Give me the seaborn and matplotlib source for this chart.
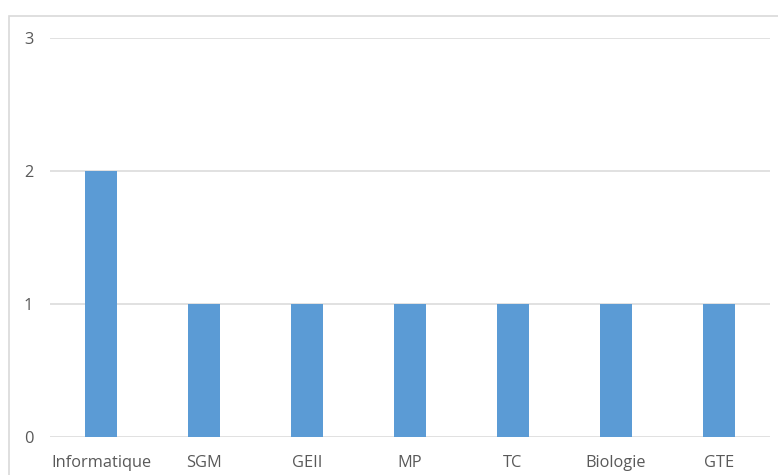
import matplotlib
matplotlib.use("Agg")
import matplotlib.pyplot as plt
import seaborn as sns
import pandas as pd
from matplotlib.patches import Rectangle

categories = ["Informatique", "SGM", "GEII", "MP", "TC", "Biologie", "GTE"]
values = [2, 1, 1, 1, 1, 1, 1]
yticks = [0, 1, 2, 3]

df = pd.DataFrame({"cat": categories, "val": values})

sns.set_style("white")
plt.rcParams["font.family"] = ["Open Sans", "DejaVu Sans"]

W, H = 778, 475
fig = plt.figure(figsize=(W / 100, H / 100), dpi=100)
ax = fig.add_axes([50 / W, 38 / H, 720 / W, 399 / H])

sns.barplot(data=df, x="cat", y="val", color="#5B9BD5", width=0.31,
            saturation=1, linewidth=0, ax=ax, zorder=3)

ax.set_ylim(0, 3)
ax.set_yticks(yticks)
ax.set_xlim(-0.5, len(categories) - 0.5)
ax.yaxis.grid(True, color="#D9D9D9", linewidth=1.1, zorder=0)
ax.xaxis.grid(False)
for s in ax.spines.values():
    s.set_visible(False)
ax.set_xlabel("")
ax.set_ylabel("")
ax.tick_params(axis="both", length=0, labelsize=11.8, colors="#595959")
ax.tick_params(axis="y", pad=12)
ax.tick_params(axis="x", pad=13)

fig.patches.append(Rectangle((8.5 / W, -0.1), 1.2, (475 - 15.5) / H + 0.1,
                             transform=fig.transFigure, fill=False,
                             edgecolor="#D9D9D9", linewidth=1.2, zorder=0))

fig.savefig("out.png", dpi=100)
